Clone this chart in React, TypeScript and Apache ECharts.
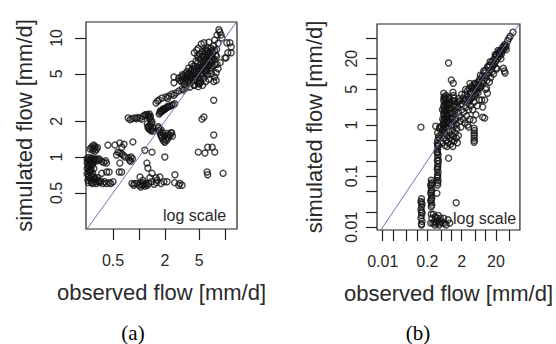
import React, { useEffect, useRef } from "react";
import * as echarts from "echarts";

type Pair = [number, number]; // [observed flow, simulated flow] in mm/d

// ---------- Panel (a) ----------
const aUpperBlob: Pair[] = [
  [2.9, 4.6], [3.0, 4.4], [3.1, 4.7], [3.2, 4.5], [3.3, 4.3], [3.3, 4.8], [3.4, 4.6], [3.5, 4.4], [3.5, 5.0], [3.2, 4.9],
  [3.6, 4.7], [3.7, 4.3], [3.8, 5.0], [3.9, 4.5], [4.0, 5.3], [4.0, 4.2], [4.1, 4.8], [4.2, 5.5], [4.3, 4.4], [4.3, 5.1],
  [4.4, 4.0], [4.5, 5.8], [4.5, 4.7], [3.8, 5.6], [4.1, 6.0], [4.6, 5.2], [4.7, 4.3], [4.8, 6.2], [4.8, 5.0], [4.9, 3.9],
  [5.0, 5.6], [5.0, 4.6], [5.1, 6.6], [5.2, 4.2], [5.2, 5.3], [5.3, 6.0], [5.4, 4.8], [5.4, 7.0], [5.5, 5.5], [5.5, 4.0],
  [4.9, 6.8], [5.1, 7.3], [5.6, 6.3], [5.7, 4.6], [5.8, 5.9], [5.8, 7.4], [5.9, 5.1], [6.0, 6.7], [6.0, 4.3], [6.1, 5.5],
  [6.2, 7.8], [6.2, 6.1], [6.3, 4.9], [6.4, 7.0], [6.4, 5.7], [6.5, 6.5], [6.5, 4.5], [6.6, 7.6], [6.7, 5.3], [6.8, 6.2],
  [6.9, 8.2], [7.0, 6.9], [7.0, 5.0], [7.2, 7.5], [7.3, 5.8], [7.4, 8.6], [7.5, 6.6], [7.6, 4.7], [7.8, 7.2], [8.0, 8.0],
  [8.1, 6.0], [8.3, 9.0], [3.6, 5.2], [4.2, 4.6], [4.6, 6.4], [5.3, 5.0], [5.7, 6.9], [6.1, 6.4], [6.6, 5.9], [4.4, 5.4],
  [3.4, 4.1], [3.9, 4.9], [5.6, 5.8], [6.9, 7.2], [7.1, 6.3], [4.7, 5.6], [5.9, 7.8], [6.3, 8.3],
  [3.1, 4.3], [3.7, 4.9], [4.0, 4.6], [4.4, 5.0], [4.6, 4.5], [4.9, 5.3], [5.1, 4.4], [5.3, 5.7], [5.6, 5.0], [5.8, 6.5],
  [6.0, 5.3], [6.2, 6.8], [6.4, 6.0], [6.7, 7.0], [6.8, 5.6], [7.1, 7.9], [7.3, 6.8], [7.6, 7.8], [7.7, 6.0], [8.0, 7.0],
  [4.3, 5.8], [4.8, 7.1], [5.5, 7.7], [6.0, 8.0], [5.0, 4.1],
];
const aBlobEdge: Pair[] = [
  [2.55, 4.7], [2.55, 4.2], [4.4, 7.5], [4.7, 7.9], [4.9, 8.2], [5.3, 8.9], [5.7, 9.1], [6.5, 9.2], [7.6, 9.6], [8.1, 10.6],
  [8.5, 11.7], [9.0, 10.6], [9.2, 10.0], [8.7, 11.2], [10.5, 9.1], [11.4, 9.1], [11.8, 8.4], [10.8, 7.5], [11.8, 7.5], [10.3, 6.8],
  [10.0, 6.8], [7.9, 5.1], [7.9, 4.4], [7.4, 4.3], [7.4, 3.0], [5.7, 2.17], [5.4, 2.08], [8.3, 5.5], [8.8, 6.2],
];
const aUpperChain: Pair[] = [
  [1.58, 2.84], [1.71, 3.01], [1.85, 3.13], [2.06, 3.19], [2.23, 3.25], [2.42, 3.38], [2.69, 3.45], [2.92, 3.59], [3.16, 3.72],
  [3.52, 3.8], [3.92, 3.87], [4.36, 4.03], [4.98, 4.18], [1.65, 2.95], [2.15, 3.1], [2.55, 3.3], [3.3, 3.65],
];
const aLowerChain: Pair[] = [
  [1.72, 2.3], [1.76, 2.36], [1.8, 2.4], [1.85, 2.42], [1.9, 2.46], [1.95, 2.5], [2.0, 2.52], [2.05, 2.56], [2.1, 2.6],
  [2.2, 2.64], [2.3, 2.68], [2.4, 2.72], [2.5, 2.75], [2.6, 2.8], [1.78, 2.45], [1.92, 2.55], [2.15, 2.66],
];
const aMidCluster: Pair[] = [
  [0.75, 2.13], [0.79, 2.06], [0.83, 2.1], [0.88, 2.13], [0.93, 2.1], [0.97, 2.15], [1.03, 2.13], [1.08, 2.08], [1.12, 2.2],
  [1.17, 2.25], [1.22, 2.28], [1.27, 2.25], [1.3, 2.18], [1.34, 2.12], [1.38, 2.04], [1.42, 1.97], [1.4, 1.9], [1.35, 1.86],
  [1.3, 1.82], [1.27, 1.78], [1.3, 1.73], [1.34, 1.72], [1.4, 1.7], [1.45, 1.75], [1.45, 1.65], [1.38, 1.66], [1.32, 2.3],
  [1.36, 2.2], [1.25, 1.9],
];
const aNearDiagonal: Pair[] = [
  [1.68, 1.8], [1.7, 1.75], [1.72, 1.68], [1.75, 1.62], [1.78, 1.55], [1.82, 1.5], [1.85, 1.45], [1.9, 1.4], [1.95, 1.36],
  [2.0, 1.33], [2.1, 1.38], [2.2, 1.45], [2.3, 1.52], [2.4, 1.6], [2.45, 1.5], [1.8, 1.7], [1.9, 1.6], [2.0, 1.5],
  [2.15, 1.58], [2.05, 1.42], [2.23, 1.53], [2.36, 1.59],
];
const aLeftCluster: Pair[] = [
  [0.25, 0.97], [0.26, 0.99], [0.27, 0.96], [0.28, 0.98], [0.29, 0.95], [0.3, 0.97], [0.31, 0.94], [0.32, 0.96], [0.33, 0.93],
  [0.35, 0.95], [0.37, 0.92], [0.39, 0.9], [0.41, 0.93], [0.27, 0.92], [0.3, 0.91],
  [0.25, 0.9], [0.255, 0.85], [0.25, 0.8], [0.26, 0.76], [0.25, 0.72], [0.26, 0.68], [0.255, 0.64], [0.27, 0.88], [0.27, 0.82],
  [0.28, 0.78], [0.27, 0.74], [0.28, 0.7], [0.29, 0.86], [0.3, 0.8], [0.29, 0.73],
  [0.26, 0.61], [0.28, 0.63], [0.29, 0.6], [0.3, 0.65], [0.31, 0.62], [0.32, 0.6], [0.33, 0.64], [0.35, 0.61], [0.36, 0.63],
  [0.38, 0.6], [0.4, 0.62], [0.42, 0.6], [0.45, 0.61], [0.47, 0.6], [0.3, 0.68], [0.33, 0.67],
  [0.28, 1.2], [0.29, 1.24], [0.3, 1.18], [0.31, 1.22], [0.32, 1.16], [0.29, 1.14], [0.3, 1.26], [0.33, 1.2],
  [0.26, 0.94], [0.28, 0.9], [0.26, 0.83], [0.27, 0.78], [0.26, 0.7], [0.27, 0.66], [0.28, 0.61], [0.31, 0.66],
  [0.34, 0.62], [0.28, 0.85], [0.3, 0.95], [0.34, 0.97], [0.27, 1.17], [0.31, 1.12],
];
const aLowerScatter: Pair[] = [
  [0.37, 0.73], [0.45, 0.75], [0.42, 0.89], [0.436, 1.26], [0.526, 1.26], [0.601, 1.31], [0.634, 1.21], [0.67, 1.28],
  [0.57, 1.1], [0.634, 1.06], [0.69, 1.0], [0.55, 1.04], [0.6, 1.08], [0.66, 1.03], [0.85, 1.34], [1.17, 1.14], [1.42, 1.1],
  [0.81, 1.0], [0.78, 0.94], [0.8, 0.92], [0.84, 0.97], [0.76, 0.98], [2.0, 1.0], [1.24, 0.89], [1.27, 0.81], [1.42, 0.73],
  [1.34, 0.67], [1.11, 0.64], [1.03, 0.68], [0.83, 0.6], [0.87, 0.58], [0.89, 0.6], [0.95, 0.6], [1.0, 0.58], [1.05, 0.6],
  [1.1, 0.58], [1.12, 0.61], [1.15, 0.59], [1.2, 0.6], [1.25, 0.58], [1.3, 0.6], [1.4, 0.62], [1.5, 0.59], [1.6, 0.61],
  [1.8, 0.6], [2.6, 0.61], [2.9, 0.58], [3.0, 0.6], [1.05, 0.56], [1.18, 0.57], [2.12, 0.62], [2.62, 0.71], [3.17, 0.58],
  [1.62, 0.64], [1.75, 0.68], [0.5, 0.62], [0.42, 0.75], [0.63, 0.75], [0.6, 0.89], [1.58, 0.67], [1.95, 0.62], [0.59, 0.75],
];
const aRightScatter: Pair[] = [
  [7.4, 1.53], [6.3, 1.21], [7.1, 1.21], [7.6, 1.1], [4.9, 1.1], [5.85, 1.08], [6.2, 0.75], [6.3, 0.71], [9.5, 0.73],
];

// ---------- Panel (b) ----------
const bUpperBand: Pair[] = [
  [3.5, 3.2], [3.8, 4.5], [4.2, 3.6], [4.5, 5.2], [5.0, 4.1], [5.3, 6.0], [5.6, 4.6], [6.0, 7.0], [6.3, 5.2], [6.8, 8.0],
  [7.2, 5.9], [7.6, 6.8], [8.0, 9.2], [8.5, 7.5], [9.0, 10.5], [9.5, 8.3], [10, 12], [10.5, 9.2], [11, 7.5], [12, 13.5],
  [12.5, 10.5], [13, 15], [14, 12], [15, 17], [15.5, 11], [16, 14], [17, 19], [18, 16], [19, 21], [20, 18], [21, 24],
  [22, 20], [24, 26], [25, 22], [27, 29], [29, 25], [31, 33], [33, 30], [36, 38], [40, 36], [44, 45], [63, 66],
  [4.0, 5.5], [4.8, 6.5], [5.8, 5.6], [7.0, 9.5], [8.8, 11.5], [11.5, 14], [13.5, 17.5], [17, 15], [19, 24], [23, 29],
  [26, 24], [30, 28], [34, 35], [38, 33], [48, 50], [52, 55],
];
const bUpperOutliers: Pair[] = [
  [20.2, 13.1], [21, 12.5], [12.9, 7.0], [9.4, 3.1], [33, 13], [35, 11.5], [37, 10.5], [20, 23.5], [24.5, 27],
  [0.83, 16.4], [1.0, 7.6], [1.14, 6.6], [14, 8.5], [10, 5], [28, 20], [40, 30], [17, 10], [8.2, 6.6], [10.6, 5.3], [11.3, 4.2],
];
const bLeftBar: Pair[] = [
  [0.6, 4.2], [0.62, 3.6], [0.6, 3.0], [0.63, 2.6], [0.6, 2.2], [0.62, 1.9], [0.6, 1.6], [0.63, 1.4], [0.6, 1.2], [0.62, 1.0],
  [0.6, 0.85], [0.64, 0.72], [0.7, 3.8], [0.72, 3.2], [0.7, 2.7], [0.73, 2.3], [0.7, 1.95], [0.72, 1.65], [0.7, 1.4],
  [0.74, 1.2], [0.7, 1.05], [0.73, 0.9], [0.8, 3.5], [0.82, 2.8], [0.8, 2.4], [0.83, 2.0], [0.8, 1.7], [0.82, 1.45],
  [0.8, 1.25], [0.84, 1.1], [0.56, 1.3], [0.55, 2.0], [0.61, 3.3], [0.61, 2.4], [0.61, 1.75], [0.61, 1.1],
  [0.66, 3.4], [0.66, 2.0], [0.66, 1.3], [0.76, 2.6], [0.76, 1.5],
];
const bCentral: Pair[] = [
  [0.9, 3.3], [0.95, 2.6], [1.0, 2.1], [1.05, 1.7], [1.1, 1.4], [1.15, 1.15], [1.2, 0.95], [0.92, 1.8], [0.98, 1.3], [1.03, 1.0],
  [1.08, 0.8], [1.12, 3.0], [1.18, 2.4], [1.25, 1.9], [1.3, 1.6], [1.35, 1.3], [1.4, 1.05], [1.45, 0.85], [1.5, 2.8],
  [1.55, 2.2], [1.6, 1.75], [1.7, 1.45], [1.8, 1.2], [1.9, 2.5], [2.0, 2.0], [1.65, 3.3], [1.12, 4.4], [1.15, 3.8], [1.2, 3.4],
  [1.22, 2.9], [1.25, 2.6], [1.28, 2.25],
];
const bRightBody: Pair[] = [
  [2.1, 2.6], [2.2, 3.4], [2.3, 1.8], [2.4, 2.9], [2.5, 4.0], [2.6, 2.2], [2.7, 3.2], [2.8, 1.5], [2.9, 4.6], [3.0, 2.7],
  [3.1, 3.6], [3.2, 2.0], [3.3, 5.2], [3.4, 3.0], [3.5, 1.3], [3.6, 4.2], [3.7, 2.4], [3.9, 5.8], [4.0, 3.4], [4.2, 2.0],
  [4.4, 4.8], [4.6, 2.8], [4.8, 6.4], [5.0, 3.8], [5.2, 1.6], [5.4, 5.2], [5.7, 2.4], [6.0, 4.3], [6.3, 7.0], [6.6, 3.1],
  [7.0, 5.5], [7.7, 3.1], [8.2, 2.25], [8.2, 1.43], [9.4, 1.37], [4.4, 1.25], [2.5, 1.1], [3.0, 1.0], [2.2, 1.3],
  [1.9, 0.91], [3.2, 0.91], [2.6, 5.0], [3.5, 6.5], [2.0, 4.0], [1.8, 3.0],
];
const bNearOne: Pair[] = [
  [0.35, 0.95], [0.4, 0.7], [0.45, 0.85], [0.45, 0.55], [0.5, 0.95], [0.5, 0.65], [0.55, 0.45], [0.55, 0.8], [0.6, 0.55],
  [0.65, 0.4], [0.65, 0.7], [0.7, 0.5], [0.75, 0.38], [0.75, 0.62], [0.8, 0.45], [0.85, 0.75], [0.9, 0.55], [0.95, 0.42],
  [1.0, 0.65], [1.05, 0.5], [1.1, 0.38], [1.15, 0.6], [1.2, 0.48], [1.3, 0.7], [1.4, 0.55], [1.5, 0.45], [1.6, 0.62],
  [0.46, 0.91], [0.42, 0.6], [0.58, 1.0], [0.68, 0.9],
];
const bRightColumn: Pair[] = [
  [4.6, 0.87], [4.7, 0.78], [4.6, 0.7], [4.7, 0.63], [4.6, 0.56], [4.7, 0.5], [4.6, 0.46],
];
const bColumnA: Pair[] = [
  [0.4, 0.5], [0.39, 0.44], [0.41, 0.39], [0.4, 0.34], [0.39, 0.3], [0.41, 0.26], [0.4, 0.23], [0.39, 0.2], [0.41, 0.175],
  [0.4, 0.155], [0.39, 0.135], [0.41, 0.12], [0.4, 0.105], [0.39, 0.092], [0.41, 0.082], [0.4, 0.074], [0.4, 0.067],
  [0.42, 0.2], [0.38, 0.3], [0.42, 0.4], [0.4, 0.145], [0.4, 0.098], [0.4, 0.28], [0.4, 0.41],
];
const bColumnB: Pair[] = [
  [0.26, 0.083], [0.27, 0.074], [0.25, 0.066], [0.26, 0.059], [0.27, 0.053], [0.25, 0.047], [0.26, 0.042], [0.27, 0.037],
  [0.25, 0.033], [0.26, 0.03], [0.27, 0.027], [0.26, 0.025], [0.26, 0.07], [0.26, 0.05], [0.26, 0.035],
];
const bColumnC: Pair[] = [
  [0.135, 0.036], [0.13, 0.032], [0.14, 0.028], [0.135, 0.025], [0.13, 0.022], [0.14, 0.019], [0.135, 0.017], [0.13, 0.015],
  [0.14, 0.013], [0.135, 0.0115], [0.135, 0.011], [0.135, 0.03], [0.135, 0.02],
];
const bBottom: Pair[] = [
  [0.25, 0.012], [0.27, 0.015], [0.29, 0.012], [0.3, 0.018], [0.32, 0.013], [0.34, 0.016], [0.36, 0.012], [0.38, 0.015],
  [0.4, 0.013], [0.42, 0.017], [0.45, 0.012], [0.48, 0.015], [0.5, 0.013], [0.55, 0.012], [0.6, 0.015], [0.65, 0.012],
  [0.7, 0.011], [0.26, 0.018], [0.33, 0.011], [0.44, 0.011], [0.8, 0.014], [0.9, 0.012],
];
const bLoners: Pair[] = [[0.38, 0.046], [1.38, 0.03], [0.83, 0.225], [0.13, 0.91]];

// ---------- Axes ----------
const aTicks = [0.5, 1, 2, 5, 10];
const aXLabels = [0.5, 2, 5];
const aYLabels = [0.5, 1, 2, 5, 10];
const bTicks = [0.01, 0.02, 0.05, 0.1, 0.2, 0.5, 1, 2, 5, 10, 20, 50];
const bXLabels = [0.01, 0.2, 2, 20];
const bYLabels = [0.01, 0.1, 1, 5, 20];
const aXRange = [0.2427, 13.79];
const aYRange = [0.249, 13.6];
const bXRange = [0.0068, 100];
const bYRange = [0.0088, 95.5];

const xTitle = "observed flow [mm/d]";
const yTitle = "simulated flow [mm/d]";

const panelA: Pair[] = [
  ...aUpperBlob, ...aBlobEdge, ...aUpperChain, ...aLowerChain, ...aMidCluster,
  ...aNearDiagonal, ...aLeftCluster, ...aLowerScatter, ...aRightScatter,
];
const panelB: Pair[] = [
  ...bUpperBand, ...bUpperOutliers, ...bLeftBar, ...bCentral, ...bRightBody, ...bNearOne,
  ...bRightColumn, ...bColumnA, ...bColumnB, ...bColumnC, ...bBottom, ...bLoners,
];

const FONT = '"Liberation Sans", Arial, sans-serif';
const TEXT = "#2a2a2a";
const fmt = (v: number) => String(parseFloat(Number(v).toPrecision(2)));

function makeX(gridIndex: number, range: number[], ticks: number[], labels: number[]) {
  return {
    type: "log", logBase: 10, gridIndex, min: range[0], max: range[1],
    axisLine: { show: false },
    splitLine: { show: false },
    axisTick: { show: true, length: 11, customValues: ticks, lineStyle: { color: "#222", width: 1.2 } },
    axisLabel: { customValues: labels, formatter: fmt, fontSize: 16, color: TEXT, fontFamily: FONT, margin: 23 },
    name: xTitle, nameLocation: "middle", nameGap: 52,
    nameTextStyle: { fontSize: 22, color: TEXT, fontFamily: FONT },
  };
}
function makeY(gridIndex: number, range: number[], ticks: number[], labels: number[], margin: number, gap: number) {
  return {
    type: "log", logBase: 10, gridIndex, min: range[0], max: range[1],
    axisLine: { show: false },
    splitLine: { show: false },
    axisTick: { show: true, length: 11, customValues: ticks, lineStyle: { color: "#222", width: 1.2 } },
    axisLabel: { customValues: labels, formatter: fmt, rotate: 90, fontSize: 16, color: TEXT, fontFamily: FONT, margin },
    name: yTitle, nameLocation: "middle", nameGap: gap,
    nameTextStyle: { fontSize: 22, color: TEXT, fontFamily: FONT },
  };
}

const pointStyle = { color: "rgba(0,0,0,0)", borderColor: "#111", borderWidth: 1.4 };

export default function App() {
  const ref = useRef<HTMLDivElement>(null);
  useEffect(() => {
    if (!ref.current) return;
    const chart = echarts.init(ref.current, undefined, { renderer: "svg" });
    const aLo = Math.max(aXRange[0], aYRange[0]);
    const aHi = Math.min(aXRange[1], aYRange[1]);
    const bLo = Math.max(bXRange[0], bYRange[0]);
    const bHi = Math.min(bXRange[1], bYRange[1]);
    chart.setOption({
      animation: false,
      backgroundColor: "#fff",
      grid: [
        { left: 86, top: 22, width: 151, height: 207, show: true, borderColor: "#222", borderWidth: 1.2, backgroundColor: "transparent" },
        { left: 377, top: 24, width: 150, height: 206, show: true, borderColor: "#222", borderWidth: 1.2, backgroundColor: "transparent" },
      ],
      xAxis: [makeX(0, aXRange, aTicks, aXLabels), makeX(1, bXRange, bTicks, bXLabels)],
      yAxis: [makeY(0, aYRange, aTicks, aYLabels, 22, 51), makeY(1, bYRange, bTicks, bYLabels, 18, 52)],
      graphic: [
        { type: "text", x: 163, y: 215, z: 0, style: { text: "log scale", fontSize: 16, fontFamily: FONT, fill: TEXT, verticalAlign: "middle" } },
        { type: "text", x: 453, y: 218, z: 0, style: { text: "log scale", fontSize: 16, fontFamily: FONT, fill: TEXT, verticalAlign: "middle" } },
        { type: "text", x: 133, y: 333, style: { text: "(a)", fontSize: 21, fontFamily: '"Liberation Serif", "Times New Roman", serif', fill: "#000", align: "center", verticalAlign: "middle" } },
        { type: "text", x: 418, y: 333, style: { text: "(b)", fontSize: 21, fontFamily: '"Liberation Serif", "Times New Roman", serif', fill: "#000", align: "center", verticalAlign: "middle" } },
      ],
      series: [
        { type: "scatter", xAxisIndex: 0, yAxisIndex: 0, data: panelA, symbol: "circle", symbolSize: 6, itemStyle: pointStyle, z: 2 },
        { type: "scatter", xAxisIndex: 1, yAxisIndex: 1, data: panelB, symbol: "circle", symbolSize: 6, itemStyle: pointStyle, z: 2 },
        { type: "line", xAxisIndex: 0, yAxisIndex: 0, data: [[aLo, aLo], [aHi, aHi]], symbol: "none", clip: true, lineStyle: { color: "#6878a8", width: 1 }, z: 3 },
        { type: "line", xAxisIndex: 1, yAxisIndex: 1, data: [[bLo, bLo], [bHi, bHi]], symbol: "none", clip: true, lineStyle: { color: "#6878a8", width: 1 }, z: 3 },
      ],
    });
    return () => chart.dispose();
  }, []);
  return (
    <div
      ref={ref}
      style={{ position: "fixed", left: 0, top: 0, width: 556, height: 344, background: "#fff" }}
    />
  );
}
